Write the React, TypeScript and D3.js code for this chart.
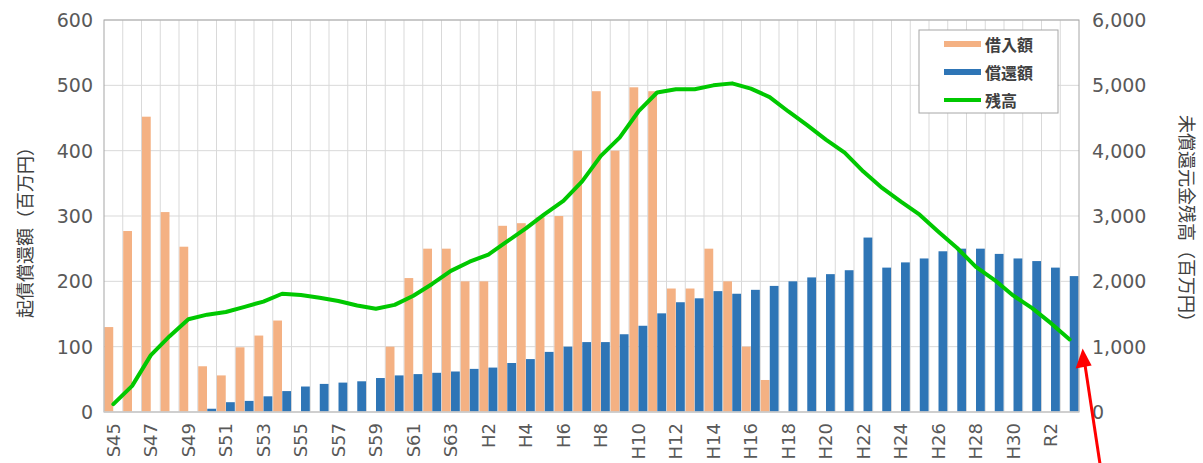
import * as d3 from 'd3';
import React from 'react';

const categories = [
  'S45', 'S46', 'S47', 'S48', 'S49', 'S50', 'S51', 'S52', 'S53', 'S54',
  'S55', 'S56', 'S57', 'S58', 'S59', 'S60', 'S61', 'S62', 'S63',
  'H1', 'H2', 'H3', 'H4', 'H5', 'H6', 'H7', 'H8', 'H9', 'H10',
  'H11', 'H12', 'H13', 'H14', 'H15', 'H16', 'H17', 'H18', 'H19', 'H20',
  'H21', 'H22', 'H23', 'H24', 'H25', 'H26', 'H27', 'H28', 'H29', 'H30',
  'R1', 'R2', 'R3',
];

// 借入額 (百万円)
const borrow = [
  130, 277, 452, 306, 253, 70, 56, 99, 117, 140,
  0, 0, 0, 0, 0, 100, 205, 250, 250,
  200, 200, 285, 289, 298, 300, 400, 491, 400, 497,
  491, 189, 189, 250, 200, 100, 49, 0, 0, 0,
  0, 0, 0, 0, 0, 0, 0, 0, 0, 0,
  0, 0, 0,
];

// 償還額 (百万円)
const repay = [
  0, 0, 0, 0, 0, 5, 15, 17, 24, 32,
  39, 43, 45, 47, 52, 56, 58, 60, 62,
  66, 68, 75, 81, 92, 100, 107, 107, 119, 132,
  151, 168, 174, 185, 181, 187, 193, 200, 206, 211,
  217, 267, 221, 229, 235, 246, 250, 250, 242, 235,
  231, 221, 208,
];

// 残高 (百万円, right axis)
const balance = [
  120, 400, 870, 1160, 1420, 1490, 1530, 1610, 1690, 1810,
  1790, 1750, 1700, 1630, 1580, 1640, 1780, 1960, 2160,
  2300, 2410, 2610, 2810, 3030, 3230, 3530, 3920, 4200, 4600,
  4890, 4940, 4940, 5000, 5030, 4950, 4820, 4600, 4390, 4170,
  3970, 3680, 3430, 3220, 3020, 2760, 2510, 2220, 2020, 1780,
  1590, 1360, 1110,
];

const leftTicks = [0, 100, 200, 300, 400, 500, 600];
const rightTicks = [0, 1000, 2000, 3000, 4000, 5000, 6000];

const W = 1203;
const H = 463;
const L = 104;
const R = 1079;
const T = 20;
const B = 412;

const ORANGE = '#f4b183';
const BLUE = '#2e75b6';
const GREEN = '#00c800';
const TXT = '#595959';
const NUMFONT = '"DejaVu Sans", sans-serif';
const JPFONT = '"Noto Sans CJK JP", sans-serif';

export default function App() {
  const x = d3.scaleBand<string>().domain(categories).range([L, R]).padding(0);
  const bw = x.bandwidth();
  const sub = d3
    .scaleBand<string>()
    .domain(['borrow', 'repay'])
    .range([0, bw])
    .paddingInner(0.03)
    .paddingOuter(0.05);
  const y = d3.scaleLinear().domain([0, 600]).range([B, T]);
  const yR = d3.scaleLinear().domain([0, 6000]).range([B, T]);

  const line = d3
    .line<number>()
    .x((d, i) => (x(categories[i]) as number) + bw / 2)
    .y((d) => yR(d));

  const fmt = d3.format(',');

  // arrow annotation near last point
  const lastX = (x(categories[categories.length - 1]) as number) + bw / 2;
  const tipX = lastX + 13;
  const tipY = yR(balance[balance.length - 1]) + 9;

  return (
    <svg
      width={W}
      height={H}
      style={{ position: 'absolute', left: 0, top: 0, background: '#fff' }}
    >
      {/* horizontal grid */}
      {leftTicks.map((t) => (
        <line key={'h' + t} x1={L} x2={R} y1={y(t)} y2={y(t)} stroke="#d9d9d9" strokeWidth={1} />
      ))}
      {/* vertical grid */}
      {categories.slice(1).map((c) => (
        <line
          key={'v' + c}
          x1={x(c) as number}
          x2={x(c) as number}
          y1={T}
          y2={B}
          stroke="#d9d9d9"
          strokeWidth={1}
        />
      ))}

      {/* bars */}
      {categories.map((c, i) =>
        borrow[i] > 0 ? (
          <rect
            key={'b' + c}
            x={(x(c) as number) + (sub('borrow') as number)}
            y={y(borrow[i])}
            width={sub.bandwidth()}
            height={B - y(borrow[i])}
            fill={ORANGE}
          />
        ) : null
      )}
      {categories.map((c, i) =>
        repay[i] > 0 ? (
          <rect
            key={'r' + c}
            x={(x(c) as number) + (sub('repay') as number)}
            y={y(repay[i])}
            width={sub.bandwidth()}
            height={B - y(repay[i])}
            fill={BLUE}
          />
        ) : null
      )}

      {/* plot border */}
      <rect x={L} y={T} width={R - L} height={B - T} fill="none" stroke="#a6a6a6" strokeWidth={1} />
      <line x1={L} x2={R} y1={B} y2={B} stroke="#d0d0d0" strokeWidth={1.5} />

      {/* balance line */}
      <path
        d={line(balance) || ''}
        fill="none"
        stroke={GREEN}
        strokeWidth={4}
        strokeLinejoin="round"
        strokeLinecap="round"
      />

      {/* left axis ticks */}
      {leftTicks.map((t) => (
        <text
          key={'lt' + t}
          x={93}
          y={y(t)}
          textAnchor="end"
          dominantBaseline="central"
          fontFamily={NUMFONT}
          fontSize={19}
          fill={TXT}
        >
          {t}
        </text>
      ))}
      {/* right axis ticks */}
      {rightTicks.map((t) => (
        <text
          key={'rt' + t}
          x={1092}
          y={yR(t)}
          textAnchor="start"
          dominantBaseline="central"
          fontFamily={NUMFONT}
          fontSize={19}
          fill={TXT}
        >
          {fmt(t)}
        </text>
      ))}

      {/* x labels */}
      {categories.map((c, i) =>
        i % 2 === 0 ? (
          <text
            key={'xl' + c}
            transform={`translate(${(x(c) as number) + bw / 2},${423}) rotate(-90)`}
            textAnchor="end"
            dominantBaseline="central"
            fontFamily={NUMFONT}
            fontSize={18}
            fill={TXT}
          >
            {c}
          </text>
        ) : null
      )}

      {/* axis titles */}
      <text
        transform="translate(24,228) rotate(-90)"
        textAnchor="middle"
        dominantBaseline="central"
        fontFamily={JPFONT}
        fontSize={18}
        fill="#404040"
      >
        起債償還額（百万円）
      </text>
      <text
        transform="translate(1188,223) rotate(90)"
        textAnchor="middle"
        dominantBaseline="central"
        fontFamily={JPFONT}
        fontSize={18}
        fill="#404040"
      >
        未償還元金残高（百万円）
      </text>

      {/* legend */}
      <g>
        <rect x={919} y={30} width={139} height={83} fill="#fff" stroke="#a6a6a6" strokeWidth={1} />
        {[
          { label: '借入額', color: ORANGE, w: 6 },
          { label: '償還額', color: BLUE, w: 6 },
          { label: '残高', color: GREEN, w: 4 },
        ].map((d, i) => (
          <g key={d.label} transform={`translate(944,${44 + i * 28})`}>
            <line x1={0} x2={37} y1={0} y2={0} stroke={d.color} strokeWidth={d.w} />
            <text
              x={41}
              y={0}
              dominantBaseline="central"
              fontFamily={JPFONT}
              fontSize={16}
              fontWeight="bold"
              fill="#404040"
            >
              {d.label}
            </text>
          </g>
        ))}
      </g>

      {/* red arrow annotation */}
      <line x1={tipX + 18} y1={H + 5} x2={tipX + 2} y2={tipY + 14} stroke="#ff0000" strokeWidth={3} />
      <path
        d={`M${tipX},${tipY} L${tipX - 7},${tipY + 20} L${tipX + 9},${tipY + 17} Z`}
        fill="#ff0000"
      />
    </svg>
  );
}
